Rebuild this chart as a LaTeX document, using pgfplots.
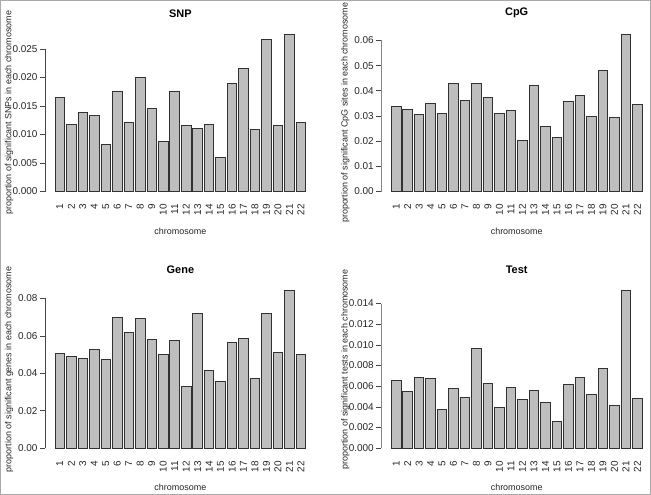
\documentclass[border=0pt]{standalone}
\usepackage{pgfplots}
\pgfplotsset{compat=1.18}
\usepackage{pgfplotstable}
\usepackage{fontspec}
\setmainfont{Liberation Sans}
\definecolor{barfill}{RGB}{190,190,190}
\definecolor{baredge}{RGB}{50,50,50}
\definecolor{axcol}{RGB}{70,70,70}
\definecolor{framecol}{RGB}{170,170,170}

\pgfplotstableread{
chr x snp cpg gene test
1 0.7 0.01655 0.0339 0.0504 0.00655
2 1.9 0.01180 0.0326 0.0490 0.00548
3 3.1 0.01391 0.0307 0.0481 0.00684
4 4.3 0.01332 0.0350 0.0526 0.00674
5 5.5 0.00822 0.0309 0.0474 0.00374
6 6.7 0.01761 0.0430 0.0700 0.00581
7 7.9 0.01209 0.0360 0.0620 0.00490
8 9.1 0.01995 0.0430 0.0695 0.00961
9 10.3 0.01461 0.0375 0.0581 0.00626
10 11.5 0.00874 0.0310 0.0501 0.00397
11 12.7 0.01761 0.0322 0.0574 0.00587
12 13.9 0.01150 0.0203 0.0331 0.00471
13 15.1 0.01103 0.0422 0.0720 0.00558
14 16.3 0.01168 0.0259 0.0415 0.00442
15 17.5 0.00599 0.0215 0.0358 0.00261
16 18.7 0.01896 0.0358 0.0563 0.00613
17 19.9 0.02160 0.0382 0.0586 0.00687
18 21.1 0.01080 0.0299 0.0371 0.00519
19 22.3 0.02658 0.0479 0.0718 0.00768
20 23.5 0.01162 0.0294 0.0513 0.00416
21 24.7 0.02758 0.0625 0.0841 0.01523
22 25.9 0.01209 0.0346 0.0502 0.00481
}\data

\pgfplotsset{
  rpanel/.style={
    width=270.8bp, height=170bp, scale only axis,
    xmin=-0.848, xmax=27.448,
    axis lines*=left, axis line style={draw=none},
    xtick=data, xticklabels from table={\data}{chr},
    xtick style={draw=none},
    xticklabel style={yshift=2bp, rotate=90, anchor=east},
    ytick pos=left, tick align=outside, major tick length=5bp,
    ytick style={draw=axcol, line width=0.6bp},
    tick label style={font=\fontsize{10}{12}\selectfont, text=black!85},
    yticklabel style={xshift=1bp},
    scaled y ticks=false,
    /pgf/number format/assume math mode=true,
    /pgf/number format/fixed, /pgf/number format/fixed zerofill,
    every axis title/.style={at={(axis description cs:0.5,1)}, yshift=14.5bp, anchor=center, font=\bfseries\fontsize{11}{13}\selectfont},
    every axis x label/.style={at={(axis description cs:0.5,0)}, yshift=-33bp, anchor=center, font=\fontsize{9}{10.8}\selectfont, text=black!85},
    every axis y label/.style={at={(axis description cs:0,0.5)}, xshift=-36bp, rotate=90, anchor=center, font=\fontsize{9}{10.8}\selectfont, text=black!85},
    xlabel={chromosome},
  },
  rbars/.style={ybar, bar width=1, bar shift=0pt, fill=barfill, draw=baredge, line width=0.8bp},
}

\begin{document}
\begin{tikzpicture}
% SNP
\begin{axis}[rpanel, at={(45bp,297.2bp)}, anchor=south west,
  ymin=-0.001103, ymax=0.028683,
  ytick={0,0.005,0.01,0.015,0.02,0.025}, /pgf/number format/precision=3,
  title={SNP}, ylabel={proportion of significant SNPs in each chromosome}]
\addplot[rbars] table[x=x, y=snp]{\data};
\draw[axcol, line width=0.6bp] (axis cs:-0.848,0) -- (axis cs:-0.848,0.025);
\end{axis}
% CpG
\begin{axis}[rpanel, at={(381.3bp,297.2bp)}, anchor=south west,
  ymin=-0.0025, ymax=0.065,
  ytick={0,0.01,0.02,0.03,0.04,0.05,0.06}, /pgf/number format/precision=2,
  title={CpG}, ylabel={proportion of significant CpG sites in each chromosome}]
\addplot[rbars] table[x=x, y=cpg]{\data};
\draw[axcol, line width=0.6bp] (axis cs:-0.848,0) -- (axis cs:-0.848,0.06);
\end{axis}
% Gene
\begin{axis}[rpanel, at={(45bp,40.5bp)}, anchor=south west,
  ymin=-0.003364, ymax=0.087464,
  ytick={0,0.02,0.04,0.06,0.08}, /pgf/number format/precision=2,
  title={Gene}, ylabel={proportion of significant genes in each chromosome}]
\addplot[rbars] table[x=x, y=gene]{\data};
\draw[axcol, line width=0.6bp] (axis cs:-0.848,0) -- (axis cs:-0.848,0.08);
\end{axis}
% Test
\begin{axis}[rpanel, at={(381.3bp,40.5bp)}, anchor=south west,
  ymin=-0.000609, ymax=0.015839,
  ytick={0,0.002,0.004,0.006,0.008,0.01,0.012,0.014}, /pgf/number format/precision=3,
  title={Test}, ylabel={proportion of significant tests in each chromosome}]
\addplot[rbars] table[x=x, y=test]{\data};
\draw[axcol, line width=0.6bp] (axis cs:-0.848,0) -- (axis cs:-0.848,0.014);
\end{axis}
\pgfresetboundingbox
\path[use as bounding box] (0,0) rectangle (651bp,495bp);
\draw[framecol, line width=1bp] (0.5bp,0.5bp) rectangle (650.5bp,494.5bp);
\end{tikzpicture}
\end{document}
